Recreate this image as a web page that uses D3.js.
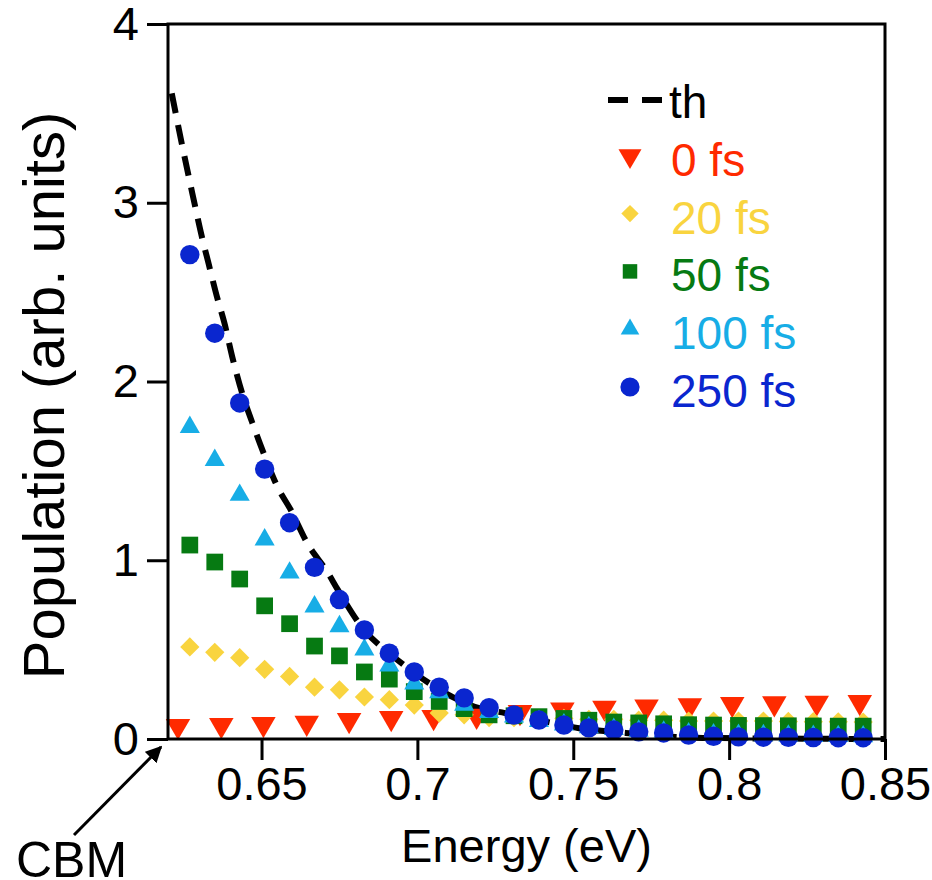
<!DOCTYPE html>
<html>
<head>
<meta charset="utf-8">
<script src="https://cdn.jsdelivr.net/npm/d3@7"></script>
<style>
  html, body { margin: 0; padding: 0; background: #fff; }
  svg { display: block; font-family: "Liberation Sans", Arial, Helvetica, sans-serif; }
</style>
</head>
<body>
<svg id="chart" width="932" height="880"></svg>
<script>
// ---------------- data ----------------
const energies = [0.627, 0.635, 0.643, 0.651, 0.659, 0.667, 0.675, 0.683, 0.691, 0.699,
                  0.707, 0.715, 0.723, 0.731, 0.739, 0.747, 0.755, 0.763, 0.771, 0.779,
                  0.787, 0.795, 0.803, 0.811, 0.819, 0.827, 0.835, 0.843];
const pop20fs  = [0.515, 0.485, 0.455, 0.39, 0.35, 0.29, 0.275, 0.235, 0.22, 0.19,
                  0.145, 0.135, 0.12, 0.12, 0.115, 0.115, 0.11, 0.11, 0.105, 0.105,
                  0.10, 0.10, 0.10, 0.10, 0.098, 0.097, 0.096, 0.095];
const pop50fs  = [1.085, 0.99, 0.895, 0.745, 0.645, 0.52, 0.465, 0.375, 0.335, 0.265,
                  0.21, 0.17, 0.135, 0.13, 0.125, 0.115, 0.105, 0.095, 0.09, 0.085,
                  0.08, 0.078, 0.076, 0.075, 0.074, 0.073, 0.072, 0.072];
const pop100fs = [1.745, 1.56, 1.365, 1.115, 0.93, 0.74, 0.63, 0.50, 0.41, 0.31,
                  0.26, 0.19, 0.15, 0.125, 0.10, 0.08, 0.065, 0.055, 0.045, 0.04,
                  0.03, 0.025, 0.022, 0.02, 0.018, 0.016, 0.015, 0.014];
const pop250fs = [2.71, 2.27, 1.88, 1.51, 1.21, 0.96, 0.78, 0.61, 0.48, 0.375,
                  0.29, 0.23, 0.175, 0.134, 0.106, 0.078, 0.062, 0.05, 0.04, 0.034,
                  0.022, 0.015, 0.012, 0.01, 0.009, 0.008, 0.007, 0.007];
const energies0fs = [0.6232, 0.6371, 0.6506, 0.6645, 0.6781, 0.6916, 0.7052, 0.7190, 0.7329,
                     0.7465, 0.7600, 0.7735, 0.7874, 0.8010, 0.8145, 0.8281, 0.8419];
const pop0fs      = [0.073, 0.078, 0.084, 0.09, 0.106, 0.117, 0.123, 0.13, 0.15,
                     0.165, 0.175, 0.182, 0.188, 0.195, 0.2, 0.203, 0.207];
const thEnergy = [0.6212, 0.6244, 0.6278, 0.6311, 0.6330, 0.6357, 0.6381, 0.6406, 0.6438,
                  0.6475, 0.6507, 0.6551, 0.6594, 0.6647, 0.6713, 0.6745, 0.6829, 0.6910,
                  0.6990, 0.7087, 0.7184, 0.7281, 0.7358, 0.7432, 0.7519, 0.7668, 0.7829,
                  0.7916, 0.85];
const thPop    = [3.612, 3.333, 3.053, 2.792, 2.661, 2.474, 2.327, 2.139, 1.934,
                  1.747, 1.598, 1.411, 1.281, 1.095, 0.929, 0.834, 0.61, 0.48,
                  0.37, 0.26, 0.18, 0.145, 0.117, 0.09, 0.06, 0.034, 0.011,
                  0.006, 0.0];
const xTicks = [0.65, 0.7, 0.75, 0.8, 0.85];
const xTickLabels = ["0.65", "0.7", "0.75", "0.8", "0.85"];
const yTicks = [0, 1, 2, 3, 4];
const yTickLabels = ["0", "1", "2", "3", "4"];
const seriesNames = ["0 fs", "20 fs", "50 fs", "100 fs", "250 fs"];
const seriesColors = ["#FF2A00", "#F9D43F", "#067A12", "#17ADE6", "#0A26CF"];

// ---------------- layout ----------------
const svg = d3.select("#chart");
const W = 932, H = 880;
const margin = {left: 168, top: 24, right: 47, bottom: 141};
const innerW = W - margin.left - margin.right;  // 717
const innerH = H - margin.top - margin.bottom;  // 715

svg.append("rect").attr("width", W).attr("height", H).attr("fill", "#fff");

const x = d3.scaleLinear().domain([0.62, 0.85]).range([margin.left, margin.left + innerW]);
const y = d3.scaleLinear().domain([0, 4]).range([margin.top + innerH, margin.top]);

const g = svg.append("g");

// th dashed curve (beneath markers)
const line = d3.line().x((d, i) => x(thEnergy[i])).y((d, i) => y(thPop[i])).curve(d3.curveMonotoneX);
g.append("path")
  .datum(thPop)
  .attr("d", line)
  .attr("fill", "none")
  .attr("stroke", "#000")
  .attr("stroke-width", 6)
  .attr("stroke-dasharray", "20 12");

// marker definitions
const symbolDefs = [
  {type: d3.symbolTriangle, size: 260, rot: 180},   // 0 fs  (down triangle)
  {type: d3.symbolSquare,   size: 185, rot: 45},    // 20 fs (diamond)
  {type: d3.symbolSquare,   size: 280, rot: 0},     // 50 fs (square)
  {type: d3.symbolTriangle, size: 175, rot: 0},     // 100 fs (up triangle)
  {type: d3.symbolCircle,   size: 296, rot: 0}      // 250 fs (circle)
];
const seriesX = [energies0fs, energies, energies, energies, energies];
const seriesY = [pop0fs, pop20fs, pop50fs, pop100fs, pop250fs];

seriesY.forEach((vals, si) => {
  const def = symbolDefs[si];
  const sym = d3.symbol().type(def.type).size(def.size);
  g.append("g").selectAll("path")
    .data(vals)
    .join("path")
    .attr("d", sym)
    .attr("transform", (d, i) => `translate(${x(seriesX[si][i])},${y(d)}) rotate(${def.rot})`)
    .attr("fill", seriesColors[si]);
});

// ---------------- axes ----------------
const fontAxis = 47;
const xAxis = d3.axisBottom(x).tickValues(xTicks).tickSize(21).tickPadding(7)
  .tickFormat((d, i) => xTickLabels[i]);
const xg = svg.append("g").attr("transform", `translate(0,${y(0)})`).call(xAxis);
xg.select(".domain").remove();
xg.selectAll(".tick line").attr("stroke", "#000").attr("stroke-width", 3);
xg.selectAll(".tick text").attr("font-size", fontAxis).attr("fill", "#000")
  .attr("font-family", "Liberation Sans, Arial, sans-serif");

const yAxis = d3.axisLeft(y).tickValues(yTicks).tickSize(21).tickPadding(8)
  .tickFormat((d, i) => yTickLabels[i]);
const yg = svg.append("g").attr("transform", `translate(${x(0.62)},0)`).call(yAxis);
yg.select(".domain").remove();
yg.selectAll(".tick line").attr("stroke", "#000").attr("stroke-width", 3);
yg.selectAll(".tick text").attr("font-size", fontAxis).attr("fill", "#000")
  .attr("font-family", "Liberation Sans, Arial, sans-serif");

// frame
svg.append("rect")
  .attr("x", x(0.62)).attr("y", y(4))
  .attr("width", x(0.85) - x(0.62)).attr("height", y(0) - y(4))
  .attr("fill", "none").attr("stroke", "#000").attr("stroke-width", 3);

// axis titles
svg.append("text")
  .attr("x", (x(0.62) + x(0.85)) / 2 + 0).attr("y", 862)
  .attr("text-anchor", "middle").attr("font-size", 47).attr("fill", "#000")
  .text("Energy (eV)");

svg.append("text")
  .attr("transform", `translate(64,${(y(0) + y(4)) / 2 + 14}) rotate(-90)`)
  .attr("text-anchor", "middle").attr("font-size", 58).attr("fill", "#000")
  .text("Population (arb. units)");

// CBM annotation
const defs = svg.append("defs");
defs.append("marker").attr("id", "arrow")
  .attr("viewBox", "0 0 10 10").attr("refX", 9).attr("refY", 5)
  .attr("markerWidth", 5.5).attr("markerHeight", 5.5).attr("orient", "auto")
  .attr("markerUnits", "strokeWidth")
  .append("path").attr("d", "M0,0 L10,5 L0,10 z").attr("fill", "#000");
svg.append("line")
  .attr("x1", 74).attr("y1", 835)
  .attr("x2", x(0.62) - 7).attr("y2", y(0) + 8)
  .attr("stroke", "#000").attr("stroke-width", 3)
  .attr("marker-end", "url(#arrow)");
svg.append("text")
  .attr("x", 16).attr("y", 877).attr("font-size", 50).attr("fill", "#000")
  .text("CBM");

// ---------------- legend ----------------
const legX = 630, legTextX = 671, legBase0 = 118, legStep = 57.8;
const leg = svg.append("g");
leg.append("line")
  .attr("x1", 608).attr("x2", 662)
  .attr("y1", legBase0 - 18).attr("y2", legBase0 - 18)
  .attr("stroke", "#000").attr("stroke-width", 6).attr("stroke-dasharray", "20 14");
leg.append("text").attr("x", legTextX - 2).attr("y", legBase0)
  .attr("font-size", 46).attr("fill", "#000").text("th");
seriesNames.forEach((name, i) => {
  const by = legBase0 + (i + 1) * legStep;
  const def = symbolDefs[i];
  const legSizes = [230, 150, 210, 150, 290];
  leg.append("path")
    .attr("d", d3.symbol().type(def.type).size(legSizes[i]))
    .attr("transform", `translate(${legX},${by - 20}) rotate(${def.rot})`)
    .attr("fill", seriesColors[i]);
  leg.append("text").attr("x", legTextX).attr("y", by)
    .attr("font-size", 46).attr("fill", seriesColors[i]).text(name);
});
</script>
</body>
</html>
